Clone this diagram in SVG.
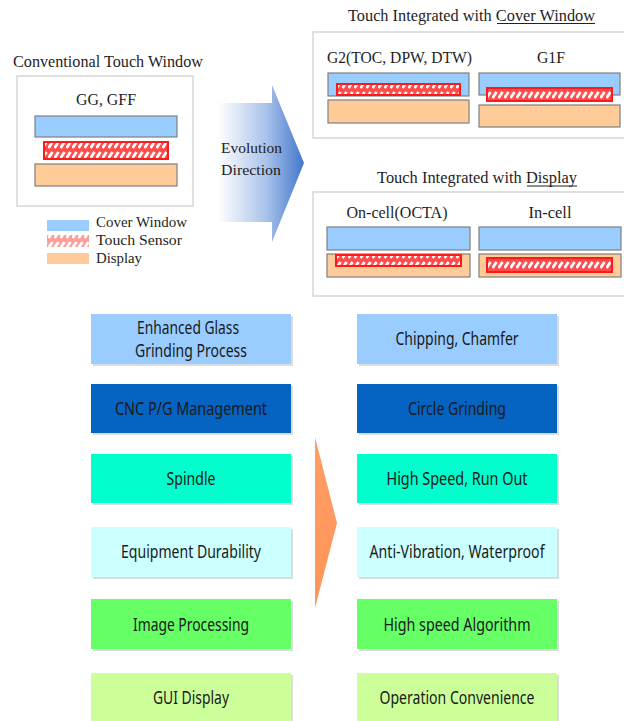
<svg xmlns="http://www.w3.org/2000/svg" width="624" height="721" viewBox="0 0 624 721">
  <style>
    .serif { font-family: "Liberation Serif", "DejaVu Serif", serif; fill: #1e1e1e; }
    .t16 { font-size: 16.5px; }
    .t15 { font-size: 15.5px; }
    .frame { fill: #fff; stroke: #d6d6d6; stroke-width: 1.5; }
    .cover { fill: #99ccff; stroke: #7f7f7f; stroke-width: 1.2; }
    .disp { fill: #ffcc99; stroke: #7f7f7f; stroke-width: 1.2; }
    .sensor { fill: url(#hatch); stroke: #ff1a1a; stroke-width: 2; }
    .box { stroke: none; }
    .shadow { fill: #dcdcdc; }
    .lbl { font-family: "Noto Sans", "Open Sans", "DejaVu Sans", sans-serif; font-size: 17.5px; fill: #1a1a1a; text-anchor: middle; }
  </style>
  <defs>
    <pattern id="hatch" patternUnits="userSpaceOnUse" width="6" height="10">
      <rect width="6" height="10" fill="#ff4d4d"/>
      <path d="M0.5 8 L4.5 2" stroke="#ffffff" stroke-width="2.8"/>
    </pattern>
    <linearGradient id="evo" gradientUnits="userSpaceOnUse" x1="218" y1="0" x2="305" y2="0">
      <stop offset="0" stop-color="#ffffff"/>
      <stop offset="0.55" stop-color="#aac3ea"/>
      <stop offset="1" stop-color="#3f75cc"/>
    </linearGradient>
    <linearGradient id="orange" x1="0" y1="0" x2="0" y2="1">
      <stop offset="0" stop-color="#ff9d66"/>
      <stop offset="1" stop-color="#ff9557"/>
    </linearGradient>
  </defs>

  <!-- Conventional touch window -->
  <g id="conventional">
    <text class="serif t16" x="108" y="67" text-anchor="middle" textLength="190" lengthAdjust="spacingAndGlyphs">Conventional Touch Window</text>
    <rect class="frame" x="17" y="76" width="176" height="130"/>
    <text class="serif t16" x="106" y="105" text-anchor="middle" textLength="60" lengthAdjust="spacingAndGlyphs">GG, GFF</text>
    <rect class="cover" x="35" y="116" width="142" height="21"/>
    <rect class="sensor" x="44" y="142" width="124" height="17"/>
    <rect class="disp" x="35" y="164" width="142" height="22"/>
  </g>

  <!-- Legend -->
  <g id="legend">
    <rect x="47" y="220" width="42" height="11" fill="#99ccff"/>
    <rect x="47" y="235" width="42" height="12" fill="url(#hatch)" opacity="0.55"/>
    <rect x="47" y="253" width="42" height="11" fill="#ffcc99"/>
    <text class="serif t15" x="96" y="227" textLength="91" lengthAdjust="spacingAndGlyphs">Cover Window</text>
    <text class="serif t15" x="96" y="245" textLength="86" lengthAdjust="spacingAndGlyphs">Touch Sensor</text>
    <text class="serif t15" x="96" y="263" textLength="46" lengthAdjust="spacingAndGlyphs">Display</text>
  </g>

  <!-- Evolution direction arrow -->
  <g id="evolution">
    <polygon points="218,103 272,103 272,85 304,163 272,242 272,222 218,222" fill="url(#evo)"/>
    <text class="serif t15" x="221" y="153" textLength="61" lengthAdjust="spacingAndGlyphs">Evolution</text>
    <text class="serif t15" x="221" y="175" textLength="60" lengthAdjust="spacingAndGlyphs">Direction</text>
  </g>

  <!-- Touch integrated with cover window -->
  <g id="cover-integrated">
    <text class="serif t16" x="348" y="21" textLength="247" lengthAdjust="spacingAndGlyphs">Touch Integrated with Cover Window</text>
    <line x1="497" y1="23.5" x2="595" y2="23.5" stroke="#222" stroke-width="1"/>
    <rect class="frame" x="313" y="32" width="320" height="106"/>
    <text class="serif t16" x="399.5" y="63" text-anchor="middle" textLength="145" lengthAdjust="spacingAndGlyphs">G2(TOC, DPW, DTW)</text>
    <text class="serif t16" x="551" y="63" text-anchor="middle" textLength="28" lengthAdjust="spacingAndGlyphs">G1F</text>
    <rect class="cover" x="328" y="73" width="141" height="23"/>
    <rect class="sensor" x="337" y="84" width="123" height="11"/>
    <rect class="disp" x="328" y="100" width="141" height="23"/>
    <rect class="cover" x="479" y="73" width="141" height="22"/>
    <rect class="sensor" x="487" y="88" width="125" height="13"/>
    <rect class="disp" x="479" y="105" width="141" height="22"/>
  </g>

  <!-- Touch integrated with display -->
  <g id="display-integrated">
    <text class="serif t16" x="377" y="183" textLength="200" lengthAdjust="spacingAndGlyphs">Touch Integrated with Display</text>
    <line x1="527" y1="186" x2="577" y2="186" stroke="#222" stroke-width="1"/>
    <rect class="frame" x="313" y="192" width="320" height="104"/>
    <text class="serif t16" x="397" y="218" text-anchor="middle" textLength="101" lengthAdjust="spacingAndGlyphs">On-cell(OCTA)</text>
    <text class="serif t16" x="550" y="218" text-anchor="middle" textLength="43" lengthAdjust="spacingAndGlyphs">In-cell</text>
    <rect class="cover" x="327" y="227" width="143" height="23"/>
    <rect class="disp" x="327" y="254" width="143" height="23"/>
    <rect class="sensor" x="336" y="255" width="125" height="11"/>
    <rect class="cover" x="479" y="227" width="142" height="23"/>
    <rect class="disp" x="479" y="254" width="142" height="23"/>
    <rect class="sensor" x="487" y="258" width="125" height="14"/>
  </g>

  <!-- Orange progression arrow -->
  <g id="progress">
    <polygon points="315,437 337,523 315,608" fill="url(#orange)"/>
  </g>

  <!-- Left column -->
  <g id="l1">
    <rect class="shadow" x="93" y="316" width="200" height="50"/>
    <rect class="box" x="91" y="314" width="200" height="50" fill="#99ccff"/>
    <text class="lbl" x="188" y="334" textLength="102" lengthAdjust="spacingAndGlyphs">Enhanced Glass</text>
    <text class="lbl" x="191" y="357" textLength="112" lengthAdjust="spacingAndGlyphs">Grinding Process</text>
  </g>
  <g id="l2">
    <rect class="shadow" x="93" y="386" width="200" height="49"/>
    <rect class="box" x="91" y="384" width="200" height="49" fill="#0563c1"/>
    <text class="lbl" x="191" y="415" textLength="152" lengthAdjust="spacingAndGlyphs">CNC P/G Management</text>
  </g>
  <g id="l3">
    <rect class="shadow" x="93" y="456" width="200" height="49"/>
    <rect class="box" x="91" y="454" width="200" height="49" fill="#00ffcc"/>
    <text class="lbl" x="191" y="485" textLength="49" lengthAdjust="spacingAndGlyphs">Spindle</text>
  </g>
  <g id="l4">
    <rect class="shadow" x="93" y="529" width="200" height="50"/>
    <rect class="box" x="91" y="527" width="200" height="50" fill="#ccffff"/>
    <text class="lbl" x="191" y="558" textLength="140" lengthAdjust="spacingAndGlyphs">Equipment Durability</text>
  </g>
  <g id="l5">
    <rect class="shadow" x="93" y="601" width="200" height="50"/>
    <rect class="box" x="91" y="599" width="200" height="50" fill="#66ff66"/>
    <text class="lbl" x="191" y="631" textLength="116" lengthAdjust="spacingAndGlyphs">Image Processing</text>
  </g>
  <g id="l6">
    <rect class="shadow" x="93" y="675" width="200" height="50"/>
    <rect class="box" x="91" y="673" width="200" height="50" fill="#ccff99"/>
    <text class="lbl" x="191" y="704" textLength="76" lengthAdjust="spacingAndGlyphs">GUI Display</text>
  </g>

  <!-- Right column -->
  <g id="r1">
    <rect class="shadow" x="359" y="316" width="200" height="50"/>
    <rect class="box" x="357" y="314" width="200" height="50" fill="#99ccff"/>
    <text class="lbl" x="457" y="345" textLength="123" lengthAdjust="spacingAndGlyphs">Chipping, Chamfer</text>
  </g>
  <g id="r2">
    <rect class="shadow" x="359" y="386" width="200" height="49"/>
    <rect class="box" x="357" y="384" width="200" height="49" fill="#0563c1"/>
    <text class="lbl" x="457" y="415" textLength="98" lengthAdjust="spacingAndGlyphs">Circle Grinding</text>
  </g>
  <g id="r3">
    <rect class="shadow" x="359" y="456" width="200" height="49"/>
    <rect class="box" x="357" y="454" width="200" height="49" fill="#00ffcc"/>
    <text class="lbl" x="457" y="485" textLength="141" lengthAdjust="spacingAndGlyphs">High Speed, Run Out</text>
  </g>
  <g id="r4">
    <rect class="shadow" x="359" y="529" width="200" height="50"/>
    <rect class="box" x="357" y="527" width="200" height="50" fill="#ccffff"/>
    <text class="lbl" x="457" y="558" textLength="175" lengthAdjust="spacingAndGlyphs">Anti-Vibration, Waterproof</text>
  </g>
  <g id="r5">
    <rect class="shadow" x="359" y="601" width="200" height="50"/>
    <rect class="box" x="357" y="599" width="200" height="50" fill="#66ff66"/>
    <text class="lbl" x="457" y="631" textLength="147" lengthAdjust="spacingAndGlyphs">High speed Algorithm</text>
  </g>
  <g id="r6">
    <rect class="shadow" x="359" y="675" width="200" height="50"/>
    <rect class="box" x="357" y="673" width="200" height="50" fill="#ccff99"/>
    <text class="lbl" x="457" y="704" textLength="155" lengthAdjust="spacingAndGlyphs">Operation Convenience</text>
  </g>

  <!-- No connectors between nodes -->
  <g id="connectors"/>
</svg>
